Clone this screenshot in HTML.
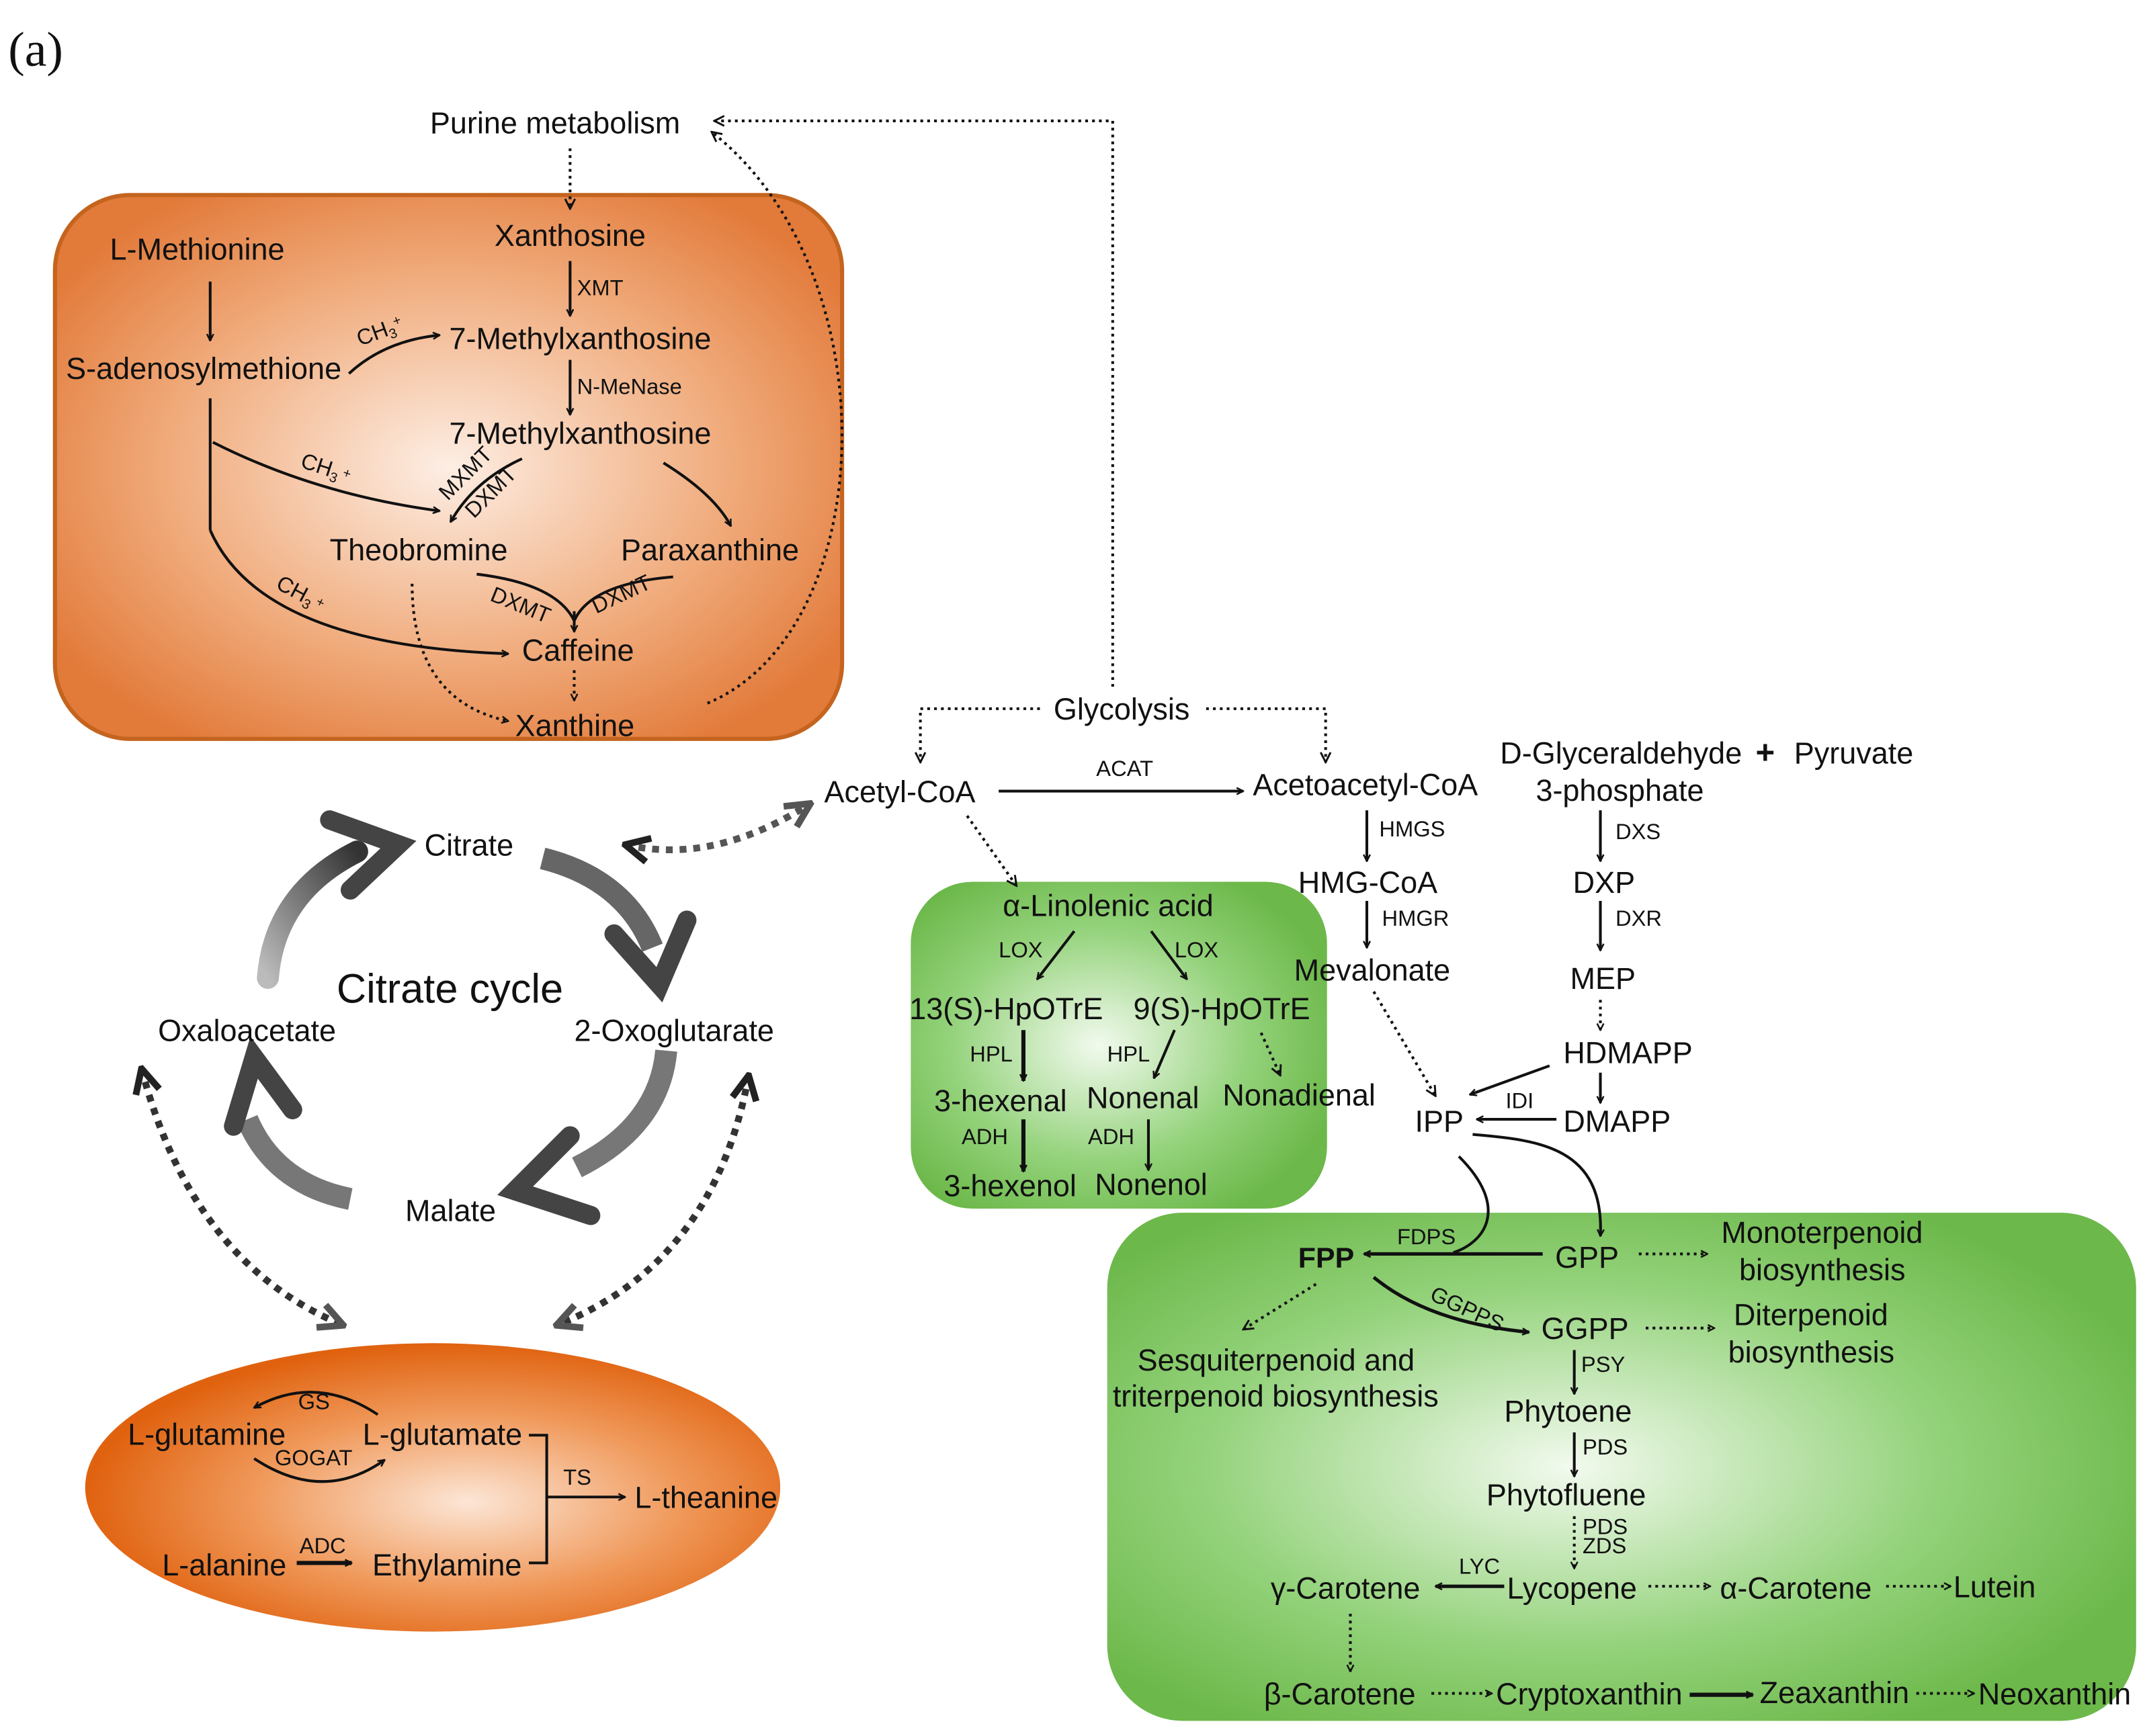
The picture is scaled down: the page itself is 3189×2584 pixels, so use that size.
<!DOCTYPE html>
<html><head><meta charset="utf-8"><style>
html,body{margin:0;padding:0;background:#fff}
svg{display:block}
text{font-family:"Liberation Sans",sans-serif;fill:#111;letter-spacing:0}
.t{font-size:22px}
.s{font-size:16px}
</style></head><body>
<svg width="3189" height="2584" viewBox="0 0 1560 1264" xmlns="http://www.w3.org/2000/svg">
<defs>
<marker id="a" viewBox="0 0 10 10" refX="9" refY="5" markerWidth="6" markerHeight="6" orient="auto" markerUnits="userSpaceOnUse"><path d="M1,1 L9,5 L1,9" fill="none" stroke="#111" stroke-width="2"/></marker>
<marker id="ad" viewBox="0 0 10 10" refX="9" refY="5" markerWidth="9" markerHeight="9" orient="auto" markerUnits="userSpaceOnUse"><path d="M1,1 L9,5 L1,9" fill="none" stroke="#111" stroke-width="1.6"/></marker>
<marker id="ag" viewBox="0 0 10 10" refX="9" refY="5" markerWidth="22" markerHeight="22" orient="auto-start-reverse" markerUnits="userSpaceOnUse"><path d="M1,1 L9,5 L1,9" fill="none" stroke="#555" stroke-width="2.2"/></marker>
<marker id="agb" viewBox="0 0 10 10" refX="9" refY="5" markerWidth="22" markerHeight="22" orient="auto-start-reverse" markerUnits="userSpaceOnUse"><path d="M1,1 L9,5 L1,9" fill="none" stroke="#222" stroke-width="2.2"/></marker>
<radialGradient id="og" cx="0.5" cy="0.5" r="0.6"><stop offset="0" stop-color="#fdeee4"/><stop offset="0.6" stop-color="#f0aa7a"/><stop offset="1" stop-color="#e27a3a"/></radialGradient>
<radialGradient id="oe" cx="0.55" cy="0.55" r="0.55"><stop offset="0" stop-color="#fce6d6"/><stop offset="0.55" stop-color="#f09a5c"/><stop offset="1" stop-color="#e0620f"/></radialGradient>
<radialGradient id="gg" cx="0.45" cy="0.5" r="0.6"><stop offset="0" stop-color="#f2faee"/><stop offset="0.6" stop-color="#93d27a"/><stop offset="1" stop-color="#6cb84a"/></radialGradient>
<linearGradient id="gr1" x1="0" y1="1" x2="1" y2="0"><stop offset="0" stop-color="#bbb"/><stop offset="1" stop-color="#333"/></linearGradient>
</defs>

<text x="6" y="48" style="font-family:'Liberation Serif',serif;font-size:36px">(a)</text>

<rect x="40" y="142" width="573" height="396" rx="55" fill="url(#og)" stroke="#c4641e" stroke-width="3"/>
<rect x="663" y="642" width="303" height="238" rx="45" fill="url(#gg)"/>
<rect x="806" y="883" width="749" height="370" rx="55" fill="url(#gg)"/>
<ellipse cx="315" cy="1083" rx="253" ry="105" fill="url(#oe)"/>

<text class="t" x="313" y="97">Purine metabolism</text>
<path d="M415,108 V152" stroke="#111" stroke-width="2" stroke-dasharray="2,3" fill="none" marker-end="url(#ad)"/>
<path d="M810,500 V88 H520" stroke="#111" stroke-width="2" stroke-dasharray="2,3" fill="none" marker-end="url(#ad)"/>
<path d="M515,512 C640,460 650,200 518,96" stroke="#111" stroke-width="2" stroke-dasharray="2,3" fill="none" marker-end="url(#ad)"/>

<text class="t" x="360" y="179">Xanthosine</text>
<text class="t" x="80" y="189">L-Methionine</text>
<path d="M153,205 V248" stroke="#111" stroke-width="2" fill="none" marker-end="url(#a)"/>
<path d="M415,190 V230" stroke="#111" stroke-width="2" fill="none" marker-end="url(#a)"/>
<text class="s" x="420" y="215">XMT</text>
<text class="t" x="327" y="254">7-Methylxanthosine</text>
<text class="t" x="48" y="276">S-adenosylmethione</text>
<path d="M254,272 Q280,248 320,244" stroke="#111" stroke-width="2" fill="none" marker-end="url(#a)"/>
<text class="s" x="262" y="252" transform="rotate(-20 262 252)">CH<tspan font-size="10" dy="3">3</tspan><tspan font-size="10" dy="-8">+</tspan></text>
<path d="M415,262 V302" stroke="#111" stroke-width="2" fill="none" marker-end="url(#a)"/>
<text class="s" x="420" y="287">N-MeNase</text>
<text class="t" x="327" y="323">7-Methylxanthosine</text>
<path d="M153,290 V386" stroke="#111" stroke-width="2" fill="none"/>
<path d="M155,322 Q230,360 320,372" stroke="#111" stroke-width="2" fill="none" marker-end="url(#a)"/>
<text class="s" x="218" y="340" transform="rotate(18 218 340)">CH<tspan font-size="10" dy="3">3</tspan><tspan font-size="10" dy="-6"> +</tspan></text>
<path d="M380,334 Q345,350 328,380" stroke="#111" stroke-width="2" fill="none" marker-end="url(#a)"/>
<text class="s" x="326" y="365" transform="rotate(-45 326 365)">MXMT</text>
<text class="s" x="345" y="378" transform="rotate(-45 345 378)">DXMT</text>
<path d="M483,337 Q520,360 532,383" stroke="#111" stroke-width="2" fill="none" marker-end="url(#a)"/>
<text class="t" x="240" y="408">Theobromine</text>
<text class="t" x="452" y="408">Paraxanthine</text>
<path d="M347,418 Q405,425 418,452 Q430,425 490,420" stroke="#111" stroke-width="2" fill="none"/>
<path d="M418,445 V460" stroke="#111" stroke-width="2" fill="none" marker-end="url(#a)"/>
<text class="s" x="356" y="437" transform="rotate(22 356 437)">DXMT</text>
<text class="s" x="434" y="447" transform="rotate(-25 434 447)">DXMT</text>
<path d="M153,386 Q190,470 370,476" stroke="#111" stroke-width="2" fill="none" marker-end="url(#a)"/>
<text class="s" x="200" y="428" transform="rotate(28 200 428)">CH<tspan font-size="10" dy="3">3</tspan><tspan font-size="10" dy="-6"> +</tspan></text>
<text class="t" x="380" y="481">Caffeine</text>
<path d="M418,488 V510" stroke="#111" stroke-width="2" stroke-dasharray="2,3" fill="none" marker-end="url(#a)"/>
<path d="M300,425 Q300,510 370,525" stroke="#111" stroke-width="2" stroke-dasharray="2,3" fill="none" marker-end="url(#a)"/>
<text class="t" x="375" y="536">Xanthine</text>

<text class="t" x="767" y="524">Glycolysis</text>
<path d="M757,516 H670 V555" stroke="#111" stroke-width="2" stroke-dasharray="2,3" fill="none" marker-end="url(#ad)"/>
<path d="M878,516 H965 V555" stroke="#111" stroke-width="2" stroke-dasharray="2,3" fill="none" marker-end="url(#ad)"/>
<text class="t" x="600" y="584">Acetyl-CoA</text>
<path d="M727,576 H905" stroke="#111" stroke-width="2" fill="none" marker-end="url(#a)"/>
<text class="s" x="798" y="565">ACAT</text>
<text class="t" x="912" y="579">Acetoacetyl-CoA</text>
<text class="t" x="1092" y="556">D-Glyceraldehyde</text>
<text x="1278" y="556" style="font-size:24px;font-weight:bold">+</text>
<text class="t" x="1306" y="556">Pyruvate</text>
<text class="t" x="1118" y="583">3-phosphate</text>
<path d="M704,594 L740,645" stroke="#111" stroke-width="2" stroke-dasharray="2,3" fill="none" marker-end="url(#ad)"/>

<path d="M995,590 V627" stroke="#111" stroke-width="2" fill="none" marker-end="url(#a)"/>
<text class="s" x="1004" y="609">HMGS</text>
<text class="t" x="945" y="650">HMG-CoA</text>
<path d="M995,656 V690" stroke="#111" stroke-width="2" fill="none" marker-end="url(#a)"/>
<text class="s" x="1006" y="674">HMGR</text>
<text class="t" x="942" y="714">Mevalonate</text>
<path d="M1000,722 L1045,798" stroke="#111" stroke-width="2" stroke-dasharray="2,3" fill="none" marker-end="url(#ad)"/>

<path d="M1165,590 V627" stroke="#111" stroke-width="2" fill="none" marker-end="url(#a)"/>
<text class="s" x="1176" y="611">DXS</text>
<text class="t" x="1145" y="650">DXP</text>
<path d="M1165,656 V692" stroke="#111" stroke-width="2" fill="none" marker-end="url(#a)"/>
<text class="s" x="1176" y="674">DXR</text>
<text class="t" x="1143" y="720">MEP</text>
<path d="M1165,728 V750" stroke="#111" stroke-width="2" stroke-dasharray="2,3" fill="none" marker-end="url(#a)"/>
<text class="t" x="1138" y="774">HDMAPP</text>
<path d="M1165,781 V803" stroke="#111" stroke-width="2" fill="none" marker-end="url(#a)"/>
<text class="t" x="1138" y="824">DMAPP</text>
<path d="M1128,776 L1070,797" stroke="#111" stroke-width="2" fill="none" marker-end="url(#a)"/>
<text class="t" x="1030" y="824">IPP</text>
<path d="M1133,815 H1075" stroke="#111" stroke-width="2" fill="none" marker-end="url(#a)"/>
<text class="s" x="1096" y="807">IDI</text>
<path d="M1072,826 C1120,830 1168,835 1165,900" stroke="#111" stroke-width="2" fill="none" marker-end="url(#a)"/>
<path d="M1062,842 C1100,880 1080,905 1058,912" stroke="#111" stroke-width="2" fill="none"/>

<text class="t" x="730" y="667">α-Linolenic acid</text>
<path d="M782,678 L755,713" stroke="#111" stroke-width="2" fill="none" marker-end="url(#a)"/>
<path d="M838,678 L864,713" stroke="#111" stroke-width="2" fill="none" marker-end="url(#a)"/>
<text class="s" x="727" y="697">LOX</text>
<text class="s" x="855" y="697">LOX</text>
<text class="t" x="662" y="742">13(S)-HpOTrE</text>
<text class="t" x="825" y="742">9(S)-HpOTrE</text>
<path d="M745,750 V787" stroke="#111" stroke-width="3" fill="none" marker-end="url(#a)"/>
<text class="s" x="706" y="773">HPL</text>
<path d="M855,750 L840,785" stroke="#111" stroke-width="2" fill="none" marker-end="url(#a)"/>
<text class="s" x="806" y="773">HPL</text>
<path d="M918,752 L932,783" stroke="#111" stroke-width="2" stroke-dasharray="2,3" fill="none" marker-end="url(#ad)"/>
<text class="t" x="680" y="809">3-hexenal</text>
<text class="t" x="791" y="807">Nonenal</text>
<text class="t" x="890" y="805">Nonadienal</text>
<path d="M745,815 V853" stroke="#111" stroke-width="3" fill="none" marker-end="url(#a)"/>
<text class="s" x="700" y="833">ADH</text>
<path d="M836,815 V852" stroke="#111" stroke-width="2" fill="none" marker-end="url(#a)"/>
<text class="s" x="792" y="833">ADH</text>
<text class="t" x="687" y="871">3-hexenol</text>
<text class="t" x="797" y="870">Nonenol</text>

<text x="945" y="923" style="font-size:21px;font-weight:bold">FPP</text>
<path d="M1123,913 H993" stroke="#111" stroke-width="2.5" fill="none" marker-end="url(#a)"/>
<text class="s" x="1017" y="906">FDPS</text>
<text class="t" x="1132" y="923">GPP</text>
<path d="M1193,913 H1243" stroke="#111" stroke-width="2" stroke-dasharray="2,3" fill="none" marker-end="url(#a)"/>
<text class="t" x="1253" y="905">Monoterpenoid</text>
<text class="t" x="1266" y="932">biosynthesis</text>
<path d="M958,935 L905,968" stroke="#111" stroke-width="2" stroke-dasharray="2,3" fill="none" marker-end="url(#ad)"/>
<path d="M1000,930 Q1040,963 1113,970" stroke="#111" stroke-width="2.5" fill="none" marker-end="url(#a)"/>
<text class="s" x="1040" y="946" transform="rotate(25 1040 946)">GGPPS</text>
<text class="t" x="1122" y="975">GGPP</text>
<path d="M1198,967 H1248" stroke="#111" stroke-width="2" stroke-dasharray="2,3" fill="none" marker-end="url(#a)"/>
<text class="t" x="1262" y="965">Diterpenoid</text>
<text class="t" x="1258" y="992">biosynthesis</text>
<text class="t" x="828" y="998">Sesquiterpenoid and</text>
<text class="t" x="810" y="1024">triterpenoid biosynthesis</text>
<path d="M1146,983 V1015" stroke="#111" stroke-width="2" fill="none" marker-end="url(#a)"/>
<text class="s" x="1151" y="999">PSY</text>
<text class="t" x="1095" y="1035">Phytoene</text>
<path d="M1146,1043 V1075" stroke="#111" stroke-width="2" fill="none" marker-end="url(#a)"/>
<text class="s" x="1152" y="1059">PDS</text>
<text class="t" x="1082" y="1096">Phytofluene</text>
<path d="M1146,1104 V1142" stroke="#111" stroke-width="2" stroke-dasharray="2,3" fill="none" marker-end="url(#a)"/>
<text class="s" x="1152" y="1117">PDS</text>
<text class="s" x="1152" y="1131">ZDS</text>
<text class="t" x="925" y="1164">γ-Carotene</text>
<path d="M1095,1155 H1045" stroke="#111" stroke-width="2.5" fill="none" marker-end="url(#a)"/>
<text class="s" x="1062" y="1146">LYC</text>
<text class="t" x="1097" y="1164">Lycopene</text>
<path d="M1200,1155 H1245" stroke="#111" stroke-width="2" stroke-dasharray="2,3" fill="none" marker-end="url(#a)"/>
<text class="t" x="1252" y="1164">α-Carotene</text>
<path d="M1373,1155 H1420" stroke="#111" stroke-width="2" stroke-dasharray="2,3" fill="none" marker-end="url(#a)"/>
<text class="t" x="1422" y="1163">Lutein</text>
<path d="M983,1175 V1217" stroke="#111" stroke-width="2" stroke-dasharray="2,3" fill="none" marker-end="url(#a)"/>
<text class="t" x="920" y="1241">β-Carotene</text>
<path d="M1042,1233 H1086" stroke="#111" stroke-width="2" stroke-dasharray="2,3" fill="none" marker-end="url(#a)"/>
<text class="t" x="1089" y="1241">Cryptoxanthin</text>
<path d="M1230,1234 H1276" stroke="#111" stroke-width="3" fill="none" marker-end="url(#a)"/>
<text class="t" x="1281" y="1240">Zeaxanthin</text>
<path d="M1395,1233 H1437" stroke="#111" stroke-width="2" stroke-dasharray="2,3" fill="none" marker-end="url(#a)"/>
<text class="t" x="1440" y="1241">Neoxanthin</text>

<path d="M195,712 Q200,650 260,620" stroke="url(#gr1)" stroke-width="16" fill="none" stroke-linecap="round"/>
<path d="M240,597 L290,615 L255,648" stroke="#444" stroke-width="14" fill="none" stroke-linecap="round"/>
<path d="M395,625 Q455,640 475,690" stroke="#666" stroke-width="16" fill="none"/>
<path d="M447,680 L480,717 L500,670" stroke="#444" stroke-width="14" fill="none" stroke-linecap="round"/>
<path d="M485,765 Q480,820 420,850" stroke="#777" stroke-width="16" fill="none"/>
<path d="M415,827 L375,867 L430,885" stroke="#444" stroke-width="14" fill="none" stroke-linecap="round"/>
<path d="M255,873 Q200,862 180,815" stroke="#777" stroke-width="16" fill="none"/>
<path d="M170,820 L185,770 L213,808" stroke="#444" stroke-width="14" fill="none" stroke-linecap="round"/>
<text class="t" x="309" y="623">Citrate</text>
<text x="245" y="730" style="font-size:30px">Citrate cycle</text>
<text class="t" x="115" y="758">Oxaloacetate</text>
<text class="t" x="418" y="758">2-Oxoglutarate</text>
<text class="t" x="295" y="889">Malate</text>

<path d="M455,615 Q520,630 590,585" stroke="#555" stroke-width="5" stroke-dasharray="5,5" fill="none" marker-end="url(#ag)" marker-start="url(#agb)"/>
<path d="M103,778 Q140,920 250,965" stroke="#333" stroke-width="5" stroke-dasharray="5,5" fill="none" marker-end="url(#ag)" marker-start="url(#agb)"/>
<path d="M545,783 Q520,920 405,965" stroke="#333" stroke-width="5" stroke-dasharray="5,5" fill="none" marker-end="url(#ag)" marker-start="url(#agb)"/>

<path d="M275,1030 Q230,1000 185,1025" stroke="#111" stroke-width="2" fill="none" marker-end="url(#a)"/>
<text class="s" x="217" y="1026">GS</text>
<text class="t" x="93" y="1052">L-glutamine</text>
<text class="t" x="264" y="1052">L-glutamate</text>
<path d="M185,1062 Q235,1095 280,1063" stroke="#111" stroke-width="2" fill="none" marker-end="url(#a)"/>
<text class="s" x="200" y="1067">GOGAT</text>
<path d="M385,1045 H398 V1138 H385" stroke="#111" stroke-width="2" fill="none"/>
<path d="M398,1090 H455" stroke="#111" stroke-width="2" fill="none" marker-end="url(#a)"/>
<text class="s" x="410" y="1081">TS</text>
<text class="t" x="462" y="1098">L-theanine</text>
<text class="t" x="118" y="1147">L-alanine</text>
<path d="M216,1138 H256" stroke="#111" stroke-width="3" fill="none" marker-end="url(#a)"/>
<text class="s" x="218" y="1131">ADC</text>
<text class="t" x="271" y="1147">Ethylamine</text>
</svg>
</body></html>
